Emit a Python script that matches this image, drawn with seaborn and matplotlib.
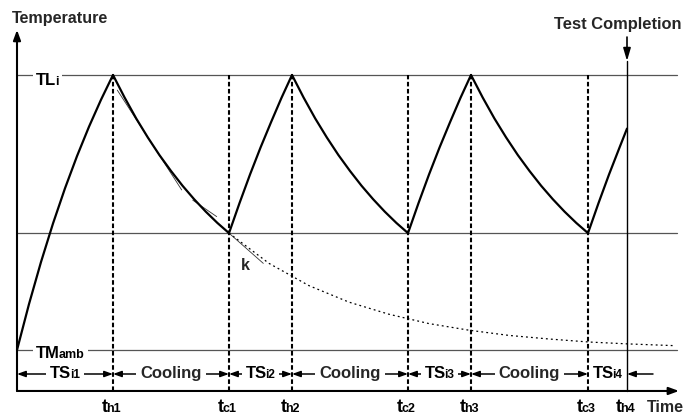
import matplotlib
matplotlib.use("Agg")
import matplotlib.pyplot as plt
from matplotlib import font_manager
import seaborn as sns
import numpy as np
import pandas as pd

# ---------------- data (schematic, arbitrary time / temperature units) ----------------
T_amb = 25.0      # TMamb level
T_mid = 67.5      # switching level between cooling and heating
T_lim = 125.0     # TLi level
T_axis = 10.1     # where the time axis sits

t_heat_end = [96, 275, 454, 610]      # th1..th4
t_cool_end = [212, 391, 571]          # tc1..tc3
heat_labels = ["h1", "h2", "h3", "h4"]
cool_labels = ["c1", "c2", "c3"]

heat1_time = [0, 12, 24, 36, 48, 60, 72, 84, 96]
heat1_temp = [25.0, 41.7, 57.0, 71.0, 83.8, 95.5, 106.2, 116.0, 125.0]

cool1_time = [96, 107.6, 119.2, 130.8, 142.4, 154, 165.6, 177.2, 188.8, 200.4, 212]
cool2_time = [275, 286.6, 298.2, 309.8, 321.4, 333, 344.6, 356.2, 367.8, 379.4, 391]
cool3_time = [454, 465.7, 477.4, 489.1, 500.8, 512.5, 524.2, 535.9, 547.6, 559.3, 571]
cool_temp = [125.0, 116.8, 109.2, 102.3, 95.9, 90.1, 84.7, 79.8, 75.3, 71.2, 67.5]

heat2_time = [212, 222.5, 233, 243.5, 254, 264.5, 275]
heat3_time = [391, 401.5, 412, 422.5, 433, 443.5, 454]
heat_temp = [67.5, 78.4, 88.8, 98.6, 107.8, 116.7, 125.0]
heat4_time = [571, 581.5, 592, 602.5, 610]
heat4_temp = [67.5, 78.4, 88.8, 98.6, 105.5]

free_time = [212, 252, 292, 332, 372, 412, 452, 492, 532, 572, 612, 656]
free_temp = [67.5, 56.5, 48.4, 42.4, 38.0, 34.6, 32.2, 30.3, 29.0, 27.9, 27.2, 26.6]

tangent_segments = [((100.3, 119.5), (164.7, 83.2)),
                    ((175.7, 79.5), (199.7, 73.5)),
                    ((212.0, 67.5), (246.3, 56.5))]

segment_names = ["TS|i1", "Cooling", "TS|i2", "Cooling", "TS|i3", "Cooling", "TS|i4"]

# ---------------- figure ----------------
sns.set_theme(style="white")


def pick_bold_family():
    for fam in ["Liberation Sans", "Arimo", "Roboto", "Open Sans", "Lato", "Noto Sans", "DejaVu Sans"]:
        try:
            path = font_manager.findfont(font_manager.FontProperties(family=fam, weight="bold"),
                                         fallback_to_default=False)
        except Exception:
            continue
        if "bold" in path.lower():
            return fam
    return "DejaVu Sans"


FAM = pick_bold_family()
plt.rcParams['font.family'] = [FAM, 'DejaVu Sans']

fig = plt.figure(figsize=(6.85, 4.16), dpi=100)
ax = fig.add_axes([0, 0, 1, 1])
ax.set_xlim(-17, 668)
ax.set_ylim(1.0, 152.27)
ax.axis("off")
renderer = fig.canvas.get_renderer()

# reference levels
for lvl in [T_lim, T_mid, T_amb]:
    ax.plot([0, 660], [lvl, lvl], color="#555555", lw=0.9, zorder=1)

# dashed marker lines
for t in sorted(t_heat_end[:3] + t_cool_end):
    ax.plot([t, t], [T_axis, T_lim], color="black", lw=1.5, ls=(0, (2.2, 1.2)), zorder=2)
# test completion line
ax.plot([t_heat_end[3], t_heat_end[3]], [T_axis, 130.1], color="black", lw=1.0, zorder=2)

# main temperature curve
segs = []
for name, tt, TT in [("h1", heat1_time, heat1_temp), ("c1", cool1_time, cool_temp),
                     ("h2", heat2_time, heat_temp), ("c2", cool2_time, cool_temp),
                     ("h3", heat3_time, heat_temp), ("c3", cool3_time, cool_temp),
                     ("h4", heat4_time, heat4_temp)]:
    segs.append(pd.DataFrame({"time": tt, "temp": TT, "seg": name}))
df = pd.concat(segs, ignore_index=True)
sns.lineplot(data=df, x="time", y="temp", units="seg", estimator=None, sort=False,
             color="black", lw=1.6, ax=ax, legend=False, zorder=4)

# free cooling (dotted)
sns.lineplot(x=free_time, y=free_temp, color="black", lw=0.9, ls=(0, (1.5, 2.5)),
             ax=ax, legend=False, sort=False, estimator=None, zorder=3)

# tangent lines
for (a, b) in tangent_segments:
    ax.plot([a[0], b[0]], [a[1], b[1]], color="#333333", lw=0.6, zorder=3)

# axes arrows
axis_arrow = dict(arrowstyle="-|>,head_length=0.6,head_width=0.22", lw=1.5,
                  color="black", shrinkA=0, shrinkB=0, mutation_scale=10)
ax.annotate("", xy=(662, T_axis), xytext=(0, T_axis), arrowprops=axis_arrow, zorder=5)
ax.annotate("", xy=(0, 141.4), xytext=(0, T_axis), arrowprops=axis_arrow, zorder=5)
ax.annotate("", xy=(t_heat_end[3], 130.1), xytext=(t_heat_end[3], 138.8),
            arrowprops=dict(arrowstyle="-|>,head_length=0.75,head_width=0.22", lw=1.2,
                            color="black", shrinkA=0, shrinkB=0, mutation_scale=10))


def text_width(s, size):
    t = ax.text(0, 0, s, fontsize=size, fontweight="bold")
    w = t.get_window_extent(renderer).width
    t.remove()
    return w


def compound(x, y, big, small, sb, ss, align="center", bg=False, dx=0, pad=2, kern=-1.5):
    w1 = text_width(big, sb) + kern
    w2 = text_width(small, ss)
    off = -(w1 + w2) / 2 if align == "center" else 0
    off += dx
    kw = dict(xycoords="data", textcoords="offset pixels", ha="left", va="baseline",
              fontweight="bold")
    pieces = [(big, sb, off), (small, ss, off + w1)]
    if bg:
        for s, size, o in pieces:
            ax.annotate(s, xy=(x, y), xytext=(o, 0), fontsize=size, color="none",
                        bbox=dict(fc="white", ec="none", pad=pad), zorder=5, **kw)
    for s, size, o in pieces:
        ax.annotate(s, xy=(x, y), xytext=(o, 0), fontsize=size, color="black", zorder=7, **kw)


# level labels
compound(19, 121.3, "TL", "i", 12, 9, align="left", bg=True, pad=2.5)
compound(19, 22.0, "TM", "amb", 12, 9, align="left", bg=True, pad=2.5)

# phase arrows row
row_T = 25 - (374 - 350) / 2.75
bounds = [0] + sorted(t_heat_end + t_cool_end)
row_arrow = dict(arrowstyle="-|>,head_length=0.5,head_width=0.18", lw=1.1,
                 color="black", shrinkA=0, shrinkB=0, mutation_scale=10)
for i, name in enumerate(segment_names):
    a, b = bounds[i], bounds[i + 1]
    c = (a + b) / 2
    if i < len(segment_names) - 1:
        ax.annotate("", xy=(a, row_T), xytext=(c, row_T), arrowprops=row_arrow, zorder=4)
        ax.annotate("", xy=(b, row_T), xytext=(c, row_T), arrowprops=row_arrow, zorder=4)
    if "|" in name:
        big, small = name.split("|")
        compound(c, row_T - 1.6, big, small, 12, 8.5, bg=True, pad=3.0)
    else:
        ax.annotate(name, xy=(c, row_T - 1.6), ha="center", va="baseline", fontsize=12,
                    fontweight="bold", bbox=dict(fc="white", ec="none", pad=3.0), zorder=6)
ax.annotate("", xy=(t_heat_end[3], row_T), xytext=(t_heat_end[3] + 26, row_T),
            arrowprops=row_arrow, zorder=4)

# time labels under axis
label_T = 25 - (411.7 - 350) / 2.75
for t, lab in zip(t_heat_end, heat_labels):
    compound(t, label_T, "t", lab, 13, 9, dx=-2)
for t, lab in zip(t_cool_end, cool_labels):
    compound(t, label_T, "t", lab, 13, 9, dx=-2)
ax.text(629.7, label_T, "Time", fontsize=11.5, fontweight="bold", ha="left", va="baseline")

# titles
ax.text(-5, 144.0, "Temperature", fontsize=11.6, fontweight="bold", ha="left", va="baseline")
ax.text(600.5, 141.6, "Test Completion", fontsize=11.9, fontweight="bold", ha="center", va="baseline")
ax.text(228, 55.9, "k", fontsize=11.5, fontweight="bold", ha="center", va="center")

fig.savefig("out.png", dpi=100)
